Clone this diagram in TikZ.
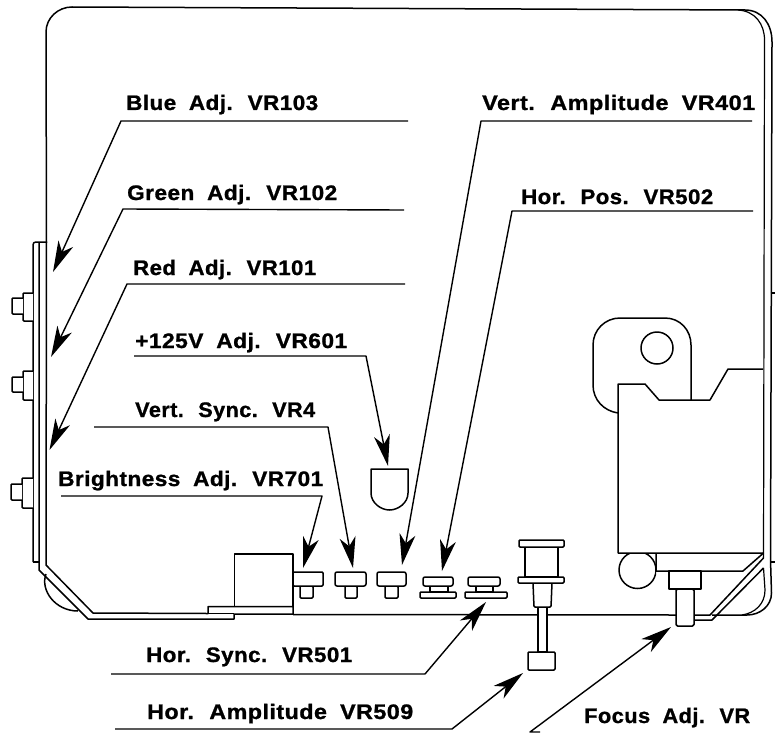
\documentclass[tikz,border=0pt]{standalone}
\usepackage{graphicx}
\usepackage{fontspec}
\setmainfont{Liberation Sans}[BoldFeatures={FakeBold=1},WordSpace=1.9,LetterSpace=2]
\usetikzlibrary{arrows.meta}
\newcommand{\lbl}[2]{\resizebox{#1pt}{\height}{\fontsize{21}{23}\selectfont\bfseries #2}}
\tikzset{
  part/.style={draw=black,line width=1.5pt,line join=round,fill=white},
  body/.style={draw=black,line width=1.5pt,line join=round},
  thin body/.style={draw=black,line width=1.2pt,line join=round},
  leader/.style={draw=black,line width=1.4pt,line join=round,-{Stealth[length=31pt,width=16pt,inset=9pt]}},
  caption/.style={anchor=base west,inner sep=0pt,text=black}
}
\begin{document}
\begin{tikzpicture}[x=1pt,y=-1pt]
\useasboundingbox (0,0) rectangle (775,733);
\fill[white] (0,0) rectangle (775,733);
% casing
\draw[body] (46.5,242) -- (46,32) .. controls (46,18) and (58,7) .. (72,7) -- (745,10)
  .. controls (762,10) and (772,24) .. (772,42) -- (770.5,560) -- (771.5,593)
  .. controls (771.5,606) and (760,615) .. (747,615) -- (712,615);
\draw[thin body] (738,10) .. controls (755,11) and (764.5,24) .. (764.5,40) -- (763.5,558);
\draw[thin body] (763.5,568) -- (765,590) .. controls (765,604) and (755,613) .. (742,615);
\draw[thin body] (770.5,293) -- (775,293);
\draw[thin body] (770.5,562) -- (775,562);
% left plate
\draw[body] (33,562) -- (33,245) .. controls (33,243) and (34,242) .. (36,242) -- (46.5,242);
\draw[body] (33,562) -- (38.5,562);
\draw[body] (39,242) -- (39,570) -- (88,619) -- (234,619) -- (234,614) -- (293,614);
\draw[body] (46.5,242) -- (46,565) -- (93,613) -- (208,613.5) -- (208,606.5) -- (293,606.5) -- (293,614);
\draw[thin body] (208,613.5) -- (234,613.5);
\draw[body] (46,574) .. controls (40,590) and (55,611) .. (78,611);
% bolts
\draw[part,rounded corners=1pt] (33,293) -- (23,293) -- (23,321) -- (33,321);
\draw[part,rounded corners=1pt] (23,298) -- (12,298) -- (12,314) -- (23,314);
\draw[part,rounded corners=1pt] (33,371) -- (23,371) -- (23,400) -- (33,400);
\draw[part,rounded corners=1pt] (23,377) -- (12,377) -- (12,392) -- (23,392);
\draw[part,rounded corners=1pt] (33,478) -- (22,478) -- (22,508) -- (33,508);
\draw[part,rounded corners=1pt] (22,484) -- (11,484) -- (11,500) -- (22,500);
% base line
\draw[body] (293,614.5) -- (676,615);
\draw[body] (694,615) -- (710,615) -- (763.5,558);
\draw[body] (694,620) -- (712,620) -- (763.5,568);
% bracket box
\draw[body] (234.5,606.5) -- (234.5,554) -- (293,554) -- (293,606.5);
% knobs
\draw[part,rounded corners=1pt] (300,586) rectangle (313,598);
\draw[part,rounded corners=1pt] (293,572) rectangle (323,586);
\draw[part,rounded corners=1pt] (345,586) rectangle (357,598);
\draw[part,rounded corners=2pt] (335,572) rectangle (366,586);
\draw[part,rounded corners=1pt] (385,586) rectangle (398,598);
\draw[part,rounded corners=2pt] (377,572) rectangle (406,586);
\draw[part] (430,586) rectangle (448,592);
\draw[part,rounded corners=2pt] (423,577) rectangle (453,586);
\draw[part,rounded corners=1pt] (420,592) rectangle (456,598);
\draw[part] (476,586) rectangle (493,592);
\draw[part,rounded corners=2pt] (468,577) rectangle (500,586);
\draw[part,rounded corners=1pt] (465,592) rectangle (507,598);
% tall control
\draw[part] (538,607) rectangle (547,652);
\draw[part,rounded corners=1pt] (528,652) rectangle (555,670);
\draw[part,rounded corners=1pt] (533,583) -- (534,607) -- (551,607) -- (552,583);
\draw[part] (525,547) rectangle (558,577);
\draw[part,rounded corners=1pt] (519,540) rectangle (564,547);
\draw[part,rounded corners=1pt] (518,577) rectangle (564,583);
% shield
\draw[body] (371,493) -- (371,469) -- (408,469) -- (408,493) .. controls (408,503) and (398,510) .. (389.5,510) .. controls (381,510) and (371,503) .. (371,493) -- cycle;
% right component
\draw[body] (618,413) .. controls (604,411) and (593,400) .. (593,385) -- (593,345)
  .. controls (593,330) and (605,318) .. (620,318) -- (665,318) .. controls (680,318) and (691,330) .. (691,345) -- (691,400);
\draw[body] (657,348) circle[radius=16];
\draw[body] (763,369) -- (728,369) -- (710,400) -- (659,400) -- (645,384) -- (618,384) -- (618,553) -- (763,553);
\draw[body] (656,553) -- (656,571) -- (743,571) -- (763.5,553);
\begin{scope}
\clip (600,553) rectangle (656,600);
\draw[body] (637.5,570) circle[radius=18.5];
\end{scope}
\draw[part] (669,571) rectangle (701,589);
\draw[part,rounded corners=1.5pt] (676,589) rectangle (694,626);
% captions
\node[caption] (blue) at (126,110) {\lbl{192}{Blue Adj. VR103}};
\node[caption] (green) at (127,200) {\lbl{210}{Green Adj. VR102}};
\node[caption] (red) at (133,275) {\lbl{183}{Red Adj. VR101}};
\node[caption] (p125) at (135,348) {\lbl{212}{+125V Adj. VR601}};
\node[caption] (vsync) at (135,417) {\lbl{180}{Vert. Sync. VR4}};
\node[caption] (bright) at (58,486) {\lbl{265}{Brightness Adj. VR701}};
\node[caption] (vamp) at (482,110) {\lbl{273}{Vert. Amplitude VR401}};
\node[caption] (hpos) at (521,204) {\lbl{192}{Hor. Pos. VR502}};
\node[caption] (hsync) at (146,662) {\lbl{206}{Hor. Sync. VR501}};
\node[caption] (hamp) at (147,719) {\lbl{266}{Hor. Amplitude VR509}};
\node[caption] (focus) at (584,723) {\lbl{166}{Focus Adj. VR}};
% leader geometry
\coordinate (b0) at (408,121); \coordinate (b1) at (121,121); \coordinate (b2) at (53,272);
\coordinate (g0) at (404,210); \coordinate (g1) at (123,209); \coordinate (g2) at (51,357);
\coordinate (r0) at (405,284); \coordinate (r1) at (127,284); \coordinate (r2) at (49.5,450);
\coordinate (p0) at (134,356); \coordinate (p1) at (366,356); \coordinate (p2) at (388,466);
\coordinate (s0) at (94,427); \coordinate (s1) at (328,427); \coordinate (s2) at (353,568);
\coordinate (t0) at (61,496); \coordinate (t1) at (322,496); \coordinate (t2) at (303,568);
\coordinate (v0) at (752,121); \coordinate (v1) at (481,121); \coordinate (v2) at (402,565);
\coordinate (h0) at (753,211); \coordinate (h1) at (512,211); \coordinate (h2) at (442,571);
\coordinate (n0) at (111,674); \coordinate (n1) at (425,674); \coordinate (n2) at (486,602);
\coordinate (a0) at (115,729); \coordinate (a1) at (452,729); \coordinate (a2) at (523,673);
\coordinate (f0) at (540,732); \coordinate (f1) at (530,732); \coordinate (f2) at (671,627);
\draw[leader] (b0) -- (b1) -- (b2);
\draw[leader] (g0) -- (g1) -- (g2);
\draw[leader] (r0) -- (r1) -- (r2);
\draw[leader] (p0) -- (p1) -- (p2);
\draw[leader] (s0) -- (s1) -- (s2);
\draw[leader] (t0) -- (t1) -- (t2);
\draw[leader] (v0) -- (v1) -- (v2);
\draw[leader] (h0) -- (h1) -- (h2);
\draw[leader] (n0) -- (n1) -- (n2);
\draw[leader] (a0) -- (a1) -- (a2);
\draw[leader] (f0) -- (f1) -- (f2);
\end{tikzpicture}
\end{document}
